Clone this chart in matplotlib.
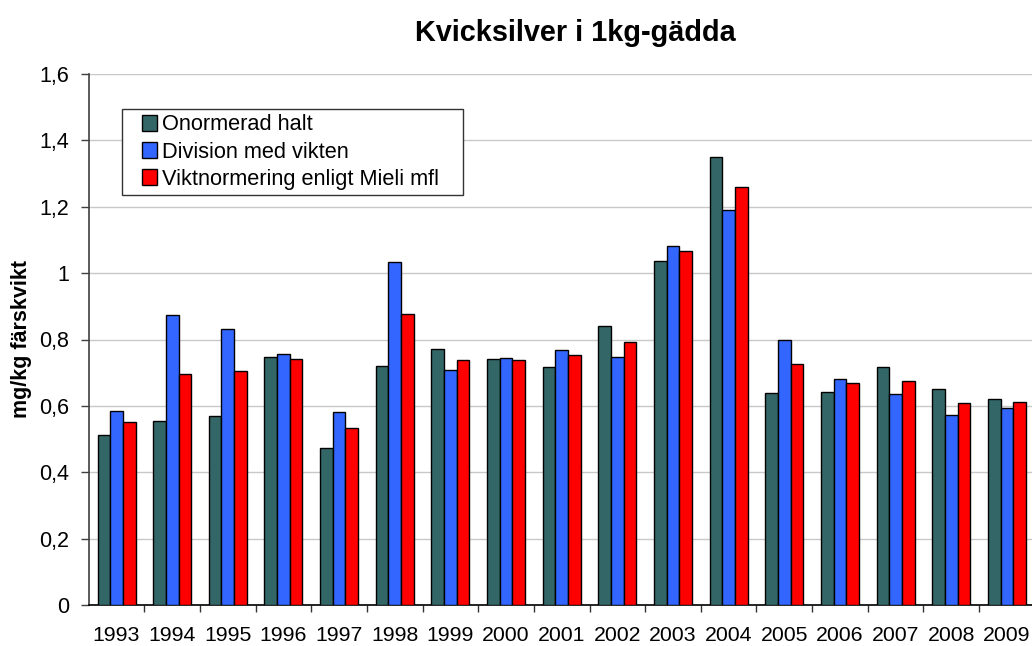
import numpy as np
import matplotlib
matplotlib.use('Agg')
import matplotlib.pyplot as plt
import matplotlib.patches as mpatches
from matplotlib.legend_handler import HandlerPatch
from matplotlib.ticker import FuncFormatter, FixedLocator

plt.rcParams['font.family'] = ['Liberation Sans', 'DejaVu Sans']

# Data
years = ['1993', '1994', '1995', '1996', '1997', '1998', '1999', '2000', '2001',
         '2002', '2003', '2004', '2005', '2006', '2007', '2008', '2009']
onormerad = [0.511, 0.554, 0.568, 0.747, 0.472, 0.719, 0.771, 0.741, 0.717,
             0.841, 1.038, 1.349, 0.638, 0.642, 0.716, 0.650, 0.620]
division = [0.584, 0.874, 0.831, 0.757, 0.581, 1.033, 0.709, 0.744, 0.767,
            0.746, 1.083, 1.190, 0.799, 0.682, 0.636, 0.573, 0.595]
mieli = [0.552, 0.696, 0.705, 0.742, 0.533, 0.878, 0.739, 0.739, 0.752,
         0.792, 1.068, 1.259, 0.725, 0.668, 0.675, 0.609, 0.613]
series_names = ['Onormerad halt', 'Division med vikten', 'Viktnormering enligt Mieli mfl']
colors = ['#336666', '#3366FF', '#FF0000']

W, H = 1032, 646
fig = plt.figure(figsize=(W / 100, H / 100), dpi=100)
# axes deliberately runs slightly past the right edge, as in the original
ax = fig.add_axes([88.7 / W, (H - 605) / H, 946 / W, 531 / H])

x = np.arange(len(years))
bw = 0.2277
for i, (vals, c) in enumerate(zip([onormerad, division, mieli], colors)):
    ax.bar(x + (i - 1) * bw, vals, bw, color=c, edgecolor='black', linewidth=1.0, zorder=3)

ax.set_xlim(-0.5, len(years) - 0.5)
ax.set_ylim(0, 1.6)
ax.set_yticks(np.arange(0, 1.61, 0.2))
ax.yaxis.set_major_formatter(FuncFormatter(lambda v, p: f"{v:.1f}".rstrip('0').rstrip('.').replace('.', ',')))
ax.grid(axis='y', color='#C8C8C8', linewidth=1.0, zorder=0)
ax.set_axisbelow(True)

ax.set_xticks(x)
ax.set_xticklabels(years)
ax.xaxis.set_minor_locator(FixedLocator(np.arange(0.5, len(years) - 0.5, 1)))
ax.tick_params(axis='x', which='major', length=0, pad=15, labelsize=15.3)
ax.tick_params(axis='x', which='minor', length=5, width=1, color='#333333')
ax.tick_params(axis='y', length=6, width=1, color='#404040', pad=8, labelsize=15.5)

for s in ['top', 'right']:
    ax.spines[s].set_visible(False)
ax.spines['left'].set_color('#404040')
ax.spines['left'].set_linewidth(1.2)
ax.spines['bottom'].set_color('black')
ax.spines['bottom'].set_linewidth(1.2)

fig.text(575 / W, 1 - 33 / H, 'Kvicksilver i 1kg-gädda', ha='center', va='center',
         fontsize=20.8, fontweight='bold')
fig.text(22 / W, 1 - 339.5 / H, 'mg/kg färskvikt', ha='center', va='center',
         rotation=90, fontsize=15.5, fontweight='bold')


def square_handle(legend, orig_handle, xdescent, ydescent, width, height, fontsize):
    s = 0.7 * fontsize
    return mpatches.Rectangle((width - s - xdescent, -ydescent + (height - s) / 2), s, s)


proxies = [mpatches.Rectangle((0, 0), 1, 1, facecolor=c, edgecolor='black', linewidth=1.0)
           for c in colors]
leg = ax.legend(proxies, series_names, loc='upper left',
                bbox_to_anchor=(122 / W, 0.2, 341 / W, 1 - 109 / H - 0.2),
                bbox_transform=fig.transFigure, mode='expand', borderaxespad=0,
                fontsize=15.7, frameon=True, fancybox=False, framealpha=1,
                edgecolor='#333333', borderpad=0.25, labelspacing=0.28,
                handlelength=1.35, handleheight=0.8, handletextpad=0.25,
                handler_map={mpatches.Rectangle: HandlerPatch(patch_func=square_handle)})
leg.get_frame().set_linewidth(1.0)

plt.savefig('out.png', dpi=100)
